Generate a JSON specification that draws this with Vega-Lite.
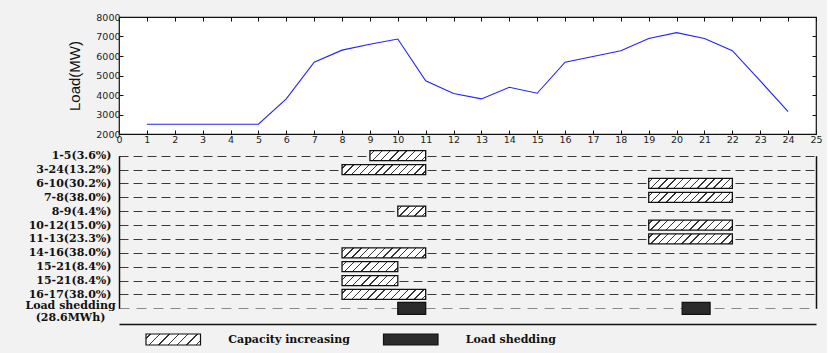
{
  "$schema": "https://vega.github.io/schema/vega-lite/v6.json",
  "background": "#f2f2f2",
  "padding": {"left": 24, "top": 11, "right": 4, "bottom": 8},
  "config": {"font": "Liberation Sans", "axis": {"labelFlush": false, "labelOverlap": false}},
  "datasets": {
    "load": [
      {"hour": 1, "load": 2500}, {"hour": 2, "load": 2500}, {"hour": 3, "load": 2500},
      {"hour": 4, "load": 2500}, {"hour": 5, "load": 2500}, {"hour": 6, "load": 3800},
      {"hour": 7, "load": 5680}, {"hour": 8, "load": 6300}, {"hour": 9, "load": 6600},
      {"hour": 10, "load": 6870}, {"hour": 11, "load": 4730}, {"hour": 12, "load": 4080},
      {"hour": 13, "load": 3800}, {"hour": 14, "load": 4400}, {"hour": 15, "load": 4090},
      {"hour": 16, "load": 5680}, {"hour": 17, "load": 5970}, {"hour": 18, "load": 6270},
      {"hour": 19, "load": 6900}, {"hour": 20, "load": 7200}, {"hour": 21, "load": 6900},
      {"hour": 22, "load": 6270}, {"hour": 23, "load": 4720}, {"hour": 24, "load": 3150}
    ],
    "bars": [
      {"row": "1-5(3.6%)", "start": 9, "end": 11, "kind": "capacity"},
      {"row": "3-24(13.2%)", "start": 8, "end": 11, "kind": "capacity"},
      {"row": "6-10(30.2%)", "start": 19, "end": 22, "kind": "capacity"},
      {"row": "7-8(38.0%)", "start": 19, "end": 22, "kind": "capacity"},
      {"row": "8-9(4.4%)", "start": 10, "end": 11, "kind": "capacity"},
      {"row": "10-12(15.0%)", "start": 19, "end": 22, "kind": "capacity"},
      {"row": "11-13(23.3%)", "start": 19, "end": 22, "kind": "capacity"},
      {"row": "14-16(38.0%)", "start": 8, "end": 11, "kind": "capacity"},
      {"row": "15-21(8.4%)", "start": 8, "end": 10, "kind": "capacity"},
      {"row": "15-21(8.4%) ", "start": 8, "end": 10, "kind": "capacity"},
      {"row": "16-17(38.0%)", "start": 8, "end": 11, "kind": "capacity"},
      {"row": "Load shedding", "start": 10, "end": 11, "kind": "shedding"},
      {"row": "Load shedding", "start": 20.2, "end": 21.2, "kind": "shedding"}
    ],
    "legend": [
      {"label": "Capacity increasing", "kind": "capacity"},
      {"label": "Load shedding", "kind": "shedding"}
    ]
  },
  "vconcat": [
    {
      "width": 697,
      "height": 117,
      "view": {"fill": "white", "stroke": "#111", "strokeWidth": 1.2},
      "data": {"name": "load"},
      "layer": [
        {
          "mark": {"type": "line", "color": "#2222ff", "strokeWidth": 1.1},
          "encoding": {
            "x": {"field": "hour", "type": "quantitative",
              "scale": {"domain": [0, 25], "nice": false},
              "axis": {"orient": "bottom", "values": [0,1,2,3,4,5,6,7,8,9,10,11,12,13,14,15,16,17,18,19,20,21,22,23,24,25],
                "format": "d", "tickSize": -4, "labelPadding": 4, "grid": false, "title": null, "domain": false,
                "tickColor": "#111", "labelFont": "DejaVu Sans", "labelFontSize": 9.5, "labelColor": "#222"}},
            "y": {"field": "load", "type": "quantitative",
              "scale": {"domain": [2000, 8000], "nice": false, "zero": false},
              "axis": {"orient": "left", "values": [2000,3000,4000,5000,6000,7000,8000], "format": "d",
                "tickSize": -4, "labelPadding": 3, "grid": false, "domain": false, "tickColor": "#111",
                "labelFont": "DejaVu Sans", "labelFontSize": 9.5, "labelColor": "#222",
                "title": "Load(MW)", "titleFont": "Liberation Sans", "titleFontSize": 15,
                "titleFontWeight": "normal", "titleColor": "#111", "titlePadding": 13}}
          }
        },
        {
          "mark": {"type": "line", "opacity": 0},
          "encoding": {
            "x": {"field": "hour", "type": "quantitative",
              "axis": {"orient": "top", "values": [0,1,2,3,4,5,6,7,8,9,10,11,12,13,14,15,16,17,18,19,20,21,22,23,24,25],
                "labels": false, "tickSize": -4, "grid": false, "title": null, "domain": false, "tickColor": "#111"}},
            "y": {"field": "load", "type": "quantitative",
              "axis": {"orient": "right", "values": [2000,3000,4000,5000,6000,7000,8000],
                "labels": false, "tickSize": -4, "grid": false, "title": null, "domain": false, "tickColor": "#111"}}
          }
        }
      ],
      "resolve": {"axis": {"x": "independent", "y": "independent"}}
    },
    {
      "bounds": "flush",
      "spacing": 10,
      "vconcat": [
        {
          "width": 697,
          "height": 178,
          "view": {"stroke": null},
          "data": {"name": "bars"},
          "layer": [
            {
              "mark": {"type": "bar", "stroke": "#111", "strokeWidth": 1.3},
              "encoding": {
                "x": {"field": "start", "type": "quantitative",
                  "scale": {"domain": [0, 25], "nice": false},
                  "axis": {"orient": "bottom", "labels": false, "ticks": false, "tickSize": 0, "grid": false,
                    "title": null, "domainColor": "#111", "domainWidth": 1.5}},
                "x2": {"field": "end"},
                "y": {"field": "row", "type": "nominal", "sort": null,
                  "scale": {"type": "point", "range": [9.7, 162.3], "padding": 0},
                  "axis": {"orient": "left", "title": null, "ticks": false, "tickSize": 0,
                    "domainColor": "#111", "domainWidth": 1.5,
                    "labelFont": "DejaVu Serif", "labelFontWeight": "bold", "labelFontSize": 11, "labelColor": "#111",
                    "labelExpr": "datum.value == 'Load shedding' ? ['Load shedding', '(28.6MWh)'] : datum.label",
                    "labelLineHeight": 12.5,
                    "labelBaseline": "middle",
                    "labelAlign": {"condition": {"test": "datum.value == 'Load shedding'", "value": "center"}, "value": "right"},
                    "labelPadding": {"condition": {"test": "datum.value == 'Load shedding'", "value": 49}, "value": 8},
                    "labelOffset": {"condition": {"test": "datum.value == 'Load shedding'", "value": -3}, "value": 0},
                    "grid": true,
                    "gridColor": {"condition": {"test": "datum.value == 'Load shedding'", "value": "#8a8a8a"}, "value": "#3a3a3a"},
                    "gridDash": {"condition": {"test": "datum.value == 'Load shedding'", "value": [10, 7]}, "value": [9, 5]},
                    "gridWidth": 1.2}},
                "size": {"condition": {"test": "datum.kind == 'shedding'", "value": 12}, "value": 10},
                "fill": {
                  "condition": [
                    {"test": "datum.kind == 'shedding'", "value": "#2b2b2b"},
                    {"test": "datum.end - datum.start == 1", "value": {"gradient": "linear", "x1": 0, "y1": 0, "x2": 1.2038, "y2": 0.4315, "stops": [
                      {"offset": 0, "color": "#fff"},
                      {"offset": 0.0815, "color": "#fff"}, {"offset": 0.0815, "color": "#333"}, {"offset": 0.1185, "color": "#333"}, {"offset": 0.1185, "color": "#fff"},
                      {"offset": 0.2815, "color": "#fff"}, {"offset": 0.2815, "color": "#333"}, {"offset": 0.3185, "color": "#333"}, {"offset": 0.3185, "color": "#fff"},
                      {"offset": 0.4815, "color": "#fff"}, {"offset": 0.4815, "color": "#333"}, {"offset": 0.5185, "color": "#333"}, {"offset": 0.5185, "color": "#fff"},
                      {"offset": 0.6815, "color": "#fff"}, {"offset": 0.6815, "color": "#333"}, {"offset": 0.7185, "color": "#333"}, {"offset": 0.7185, "color": "#fff"},
                      {"offset": 0.8815, "color": "#fff"}, {"offset": 0.8815, "color": "#333"}, {"offset": 0.9185, "color": "#333"}, {"offset": 0.9185, "color": "#fff"},
                      {"offset": 1, "color": "#fff"}]}},
                    {"test": "datum.end - datum.start == 2", "value": {"gradient": "linear", "x1": 0, "y1": 0, "x2": 1.1426, "y2": 0.2048, "stops": [
                      {"offset": 0, "color": "#fff"},
                      {"offset": 0.0519, "color": "#fff"}, {"offset": 0.0519, "color": "#333"}, {"offset": 0.0731, "color": "#333"}, {"offset": 0.0731, "color": "#fff"},
                      {"offset": 0.1769, "color": "#fff"}, {"offset": 0.1769, "color": "#333"}, {"offset": 0.1981, "color": "#333"}, {"offset": 0.1981, "color": "#fff"},
                      {"offset": 0.3019, "color": "#fff"}, {"offset": 0.3019, "color": "#333"}, {"offset": 0.3231, "color": "#333"}, {"offset": 0.3231, "color": "#fff"},
                      {"offset": 0.4269, "color": "#fff"}, {"offset": 0.4269, "color": "#333"}, {"offset": 0.4481, "color": "#333"}, {"offset": 0.4481, "color": "#fff"},
                      {"offset": 0.5519, "color": "#fff"}, {"offset": 0.5519, "color": "#333"}, {"offset": 0.5731, "color": "#333"}, {"offset": 0.5731, "color": "#fff"},
                      {"offset": 0.6769, "color": "#fff"}, {"offset": 0.6769, "color": "#333"}, {"offset": 0.6981, "color": "#333"}, {"offset": 0.6981, "color": "#fff"},
                      {"offset": 0.8019, "color": "#fff"}, {"offset": 0.8019, "color": "#333"}, {"offset": 0.8231, "color": "#333"}, {"offset": 0.8231, "color": "#fff"},
                      {"offset": 0.9269, "color": "#fff"}, {"offset": 0.9269, "color": "#333"}, {"offset": 0.9481, "color": "#333"}, {"offset": 0.9481, "color": "#fff"},
                      {"offset": 1, "color": "#fff"}]}}
                  ],
                  "value": {"gradient": "linear", "x1": 0, "y1": 0, "x2": 1.1039, "y2": 0.132, "stops": [
                    {"offset": 0, "color": "#fff"},
                    {"offset": 0.0342, "color": "#fff"}, {"offset": 0.0342, "color": "#333"}, {"offset": 0.0492, "color": "#333"}, {"offset": 0.0492, "color": "#fff"},
                    {"offset": 0.1175, "color": "#fff"}, {"offset": 0.1175, "color": "#333"}, {"offset": 0.1325, "color": "#333"}, {"offset": 0.1325, "color": "#fff"},
                    {"offset": 0.2008, "color": "#fff"}, {"offset": 0.2008, "color": "#333"}, {"offset": 0.2158, "color": "#333"}, {"offset": 0.2158, "color": "#fff"},
                    {"offset": 0.2842, "color": "#fff"}, {"offset": 0.2842, "color": "#333"}, {"offset": 0.2992, "color": "#333"}, {"offset": 0.2992, "color": "#fff"},
                    {"offset": 0.3675, "color": "#fff"}, {"offset": 0.3675, "color": "#333"}, {"offset": 0.3825, "color": "#333"}, {"offset": 0.3825, "color": "#fff"},
                    {"offset": 0.4508, "color": "#fff"}, {"offset": 0.4508, "color": "#333"}, {"offset": 0.4658, "color": "#333"}, {"offset": 0.4658, "color": "#fff"},
                    {"offset": 0.5342, "color": "#fff"}, {"offset": 0.5342, "color": "#333"}, {"offset": 0.5492, "color": "#333"}, {"offset": 0.5492, "color": "#fff"},
                    {"offset": 0.6175, "color": "#fff"}, {"offset": 0.6175, "color": "#333"}, {"offset": 0.6325, "color": "#333"}, {"offset": 0.6325, "color": "#fff"},
                    {"offset": 0.7008, "color": "#fff"}, {"offset": 0.7008, "color": "#333"}, {"offset": 0.7158, "color": "#333"}, {"offset": 0.7158, "color": "#fff"},
                    {"offset": 0.7842, "color": "#fff"}, {"offset": 0.7842, "color": "#333"}, {"offset": 0.7992, "color": "#333"}, {"offset": 0.7992, "color": "#fff"},
                    {"offset": 0.8675, "color": "#fff"}, {"offset": 0.8675, "color": "#333"}, {"offset": 0.8825, "color": "#333"}, {"offset": 0.8825, "color": "#fff"},
                    {"offset": 0.9508, "color": "#fff"}, {"offset": 0.9508, "color": "#333"}, {"offset": 0.9658, "color": "#333"}, {"offset": 0.9658, "color": "#fff"},
                    {"offset": 1, "color": "#fff"}]}
                }
              }
            },
            {
              "mark": {"type": "bar", "opacity": 0},
              "encoding": {
                "x": {"field": "start", "type": "quantitative", "axis": null},
                "x2": {"field": "end"},
                "y": {"field": "row", "type": "nominal", "sort": null,
                  "axis": {"orient": "right", "labels": false, "ticks": false, "tickSize": 0, "grid": false,
                    "title": null, "domainColor": "#111", "domainWidth": 1.5}}
              }
            }
          ],
          "resolve": {"axis": {"x": "independent", "y": "independent"}}
        },
        {
          "width": 697,
          "height": 11,
          "view": {"stroke": null},
          "data": {"name": "legend"},
          "layer": [
            {
              "mark": {"type": "rect", "stroke": "#111", "strokeWidth": 1.2},
              "encoding": {
                "x": {"field": "label", "type": "nominal", "sort": null,
                  "scale": {"type": "band", "range": [27, 319], "paddingInner": 0.7705, "paddingOuter": 0},
                  "axis": null},
                "fill": {
                  "condition": {"test": "datum.kind == 'shedding'", "value": "#2b2b2b"},
                  "value": {"gradient": "linear", "x1": 0, "y1": 0, "x2": 1.1548, "y2": 0.2331, "stops": [
                    {"offset": 0, "color": "#fff"},
                    {"offset": 0.0607, "color": "#fff"}, {"offset": 0.0607, "color": "#333"}, {"offset": 0.0821, "color": "#333"}, {"offset": 0.0821, "color": "#fff"},
                    {"offset": 0.2036, "color": "#fff"}, {"offset": 0.2036, "color": "#333"}, {"offset": 0.225, "color": "#333"}, {"offset": 0.225, "color": "#fff"},
                    {"offset": 0.3464, "color": "#fff"}, {"offset": 0.3464, "color": "#333"}, {"offset": 0.3678, "color": "#333"}, {"offset": 0.3678, "color": "#fff"},
                    {"offset": 0.4893, "color": "#fff"}, {"offset": 0.4893, "color": "#333"}, {"offset": 0.5107, "color": "#333"}, {"offset": 0.5107, "color": "#fff"},
                    {"offset": 0.6322, "color": "#fff"}, {"offset": 0.6322, "color": "#333"}, {"offset": 0.6536, "color": "#333"}, {"offset": 0.6536, "color": "#fff"},
                    {"offset": 0.775, "color": "#fff"}, {"offset": 0.775, "color": "#333"}, {"offset": 0.7964, "color": "#333"}, {"offset": 0.7964, "color": "#fff"},
                    {"offset": 0.9179, "color": "#fff"}, {"offset": 0.9179, "color": "#333"}, {"offset": 0.9393, "color": "#333"}, {"offset": 0.9393, "color": "#fff"},
                    {"offset": 1, "color": "#fff"}]}
                }
              }
            },
            {
              "mark": {"type": "text", "align": "left", "baseline": "middle", "dx": 55, "font": "DejaVu Serif", "fontWeight": "bold", "fontSize": 11, "color": "#111"},
              "encoding": {
                "x": {"field": "label", "type": "nominal", "sort": null},
                "text": {"field": "label"}
              }
            }
          ]
        }
      ]
    }
  ],
  "bounds": "flush",
  "spacing": 12
}
